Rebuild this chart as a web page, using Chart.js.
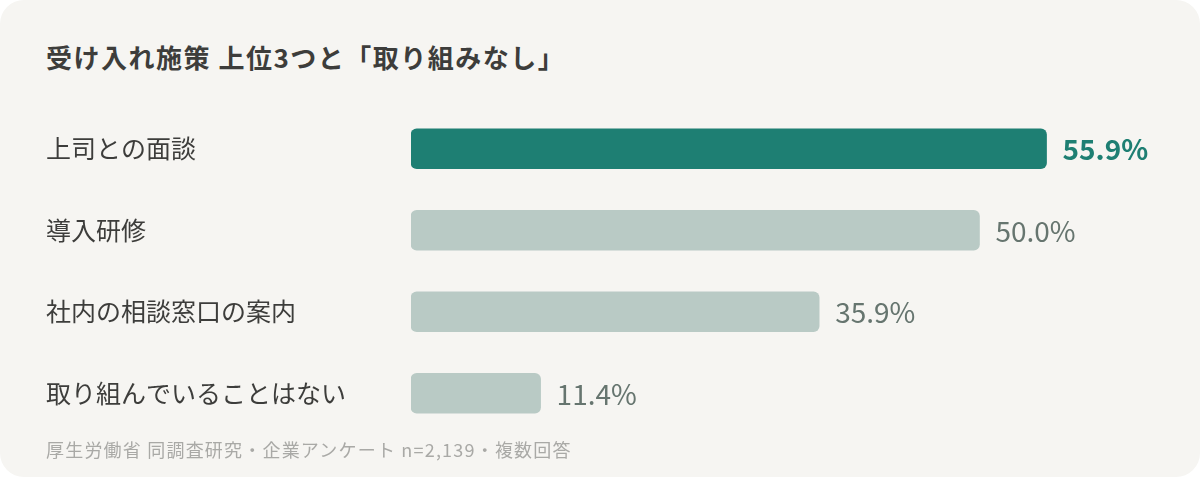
<!DOCTYPE html>
<html><head><meta charset="utf-8">
<script src="https://cdn.jsdelivr.net/npm/chart.js@4"></script>
<style>
body{margin:0;background:#fff;font-family:"Noto Sans CJK JP",sans-serif;}
.card{position:absolute;left:0;top:0;width:1200px;height:477px;background:#f6f5f2;border-radius:24px;}
h1{position:absolute;left:46px;top:38px;margin:0;font-size:26px;letter-spacing:1.5px;font-weight:700;color:#3d3d3b;}
.note{position:absolute;left:46px;top:436px;font-size:18px;letter-spacing:1.2px;color:#a9a9a6;}
#wrap{position:absolute;left:0;top:93px;width:1200px;height:356px;}
</style></head><body>
<div class="card"></div>
<h1>受け入れ施策 上位3つと「取り組みなし」</h1>
<div id="wrap"><canvas id="c"></canvas></div>
<div class="note">厚生労働省 同調査研究・企業アンケート n=2,139・複数回答</div>
<script>
const categories = ['上司との面談', '導入研修', '社内の相談窓口の案内', '取り組んでいることはない'];
const values = [55.9, 50.0, 35.9, 11.4];
const colors = ['#1e7f73', '#b9cac5', '#b9cac5', '#b9cac5'];

const valueLabels = {
  id: 'valueLabels',
  afterDatasetsDraw(chart) {
    const ctx = chart.ctx;
    chart.getDatasetMeta(0).data.forEach((bar, i) => {
      ctx.save();
      ctx.font = (i === 0 ? '700 ' : '400 ') + '28px "Noto Sans CJK JP", sans-serif';
      ctx.fillStyle = i === 0 ? '#1e7f73' : '#66756f';
      ctx.textBaseline = 'middle';
      ctx.fillText(values[i].toFixed(1) + '%', bar.x + 16, bar.y + 1);
      ctx.restore();
    });
  }
};

new Chart(document.getElementById('c'), {
  type: 'bar',
  data: {
    labels: categories,
    datasets: [{ data: values, backgroundColor: colors, barThickness: 40, borderRadius: 6, borderSkipped: false }]
  },
  options: {
    indexAxis: 'y',
    responsive: true,
    maintainAspectRatio: false,
    animation: false,
    layout: { padding: { left: 46, right: 50, top: 0, bottom: 0 } },
    plugins: { legend: { display: false }, tooltip: { enabled: false } },
    scales: {
      x: { min: 0, max: 65, display: false },
      y: {
        grid: { display: false },
        border: { display: false },
        afterFit(scale) { scale.width = 365; },
        ticks: {
          crossAlign: 'far',
          padding: 0,
          color: '#3d3d3b',
          font: { size: 25, family: '"Noto Sans CJK JP", sans-serif' }
        }
      }
    }
  },
  plugins: [valueLabels]
});
</script>
</body></html>
